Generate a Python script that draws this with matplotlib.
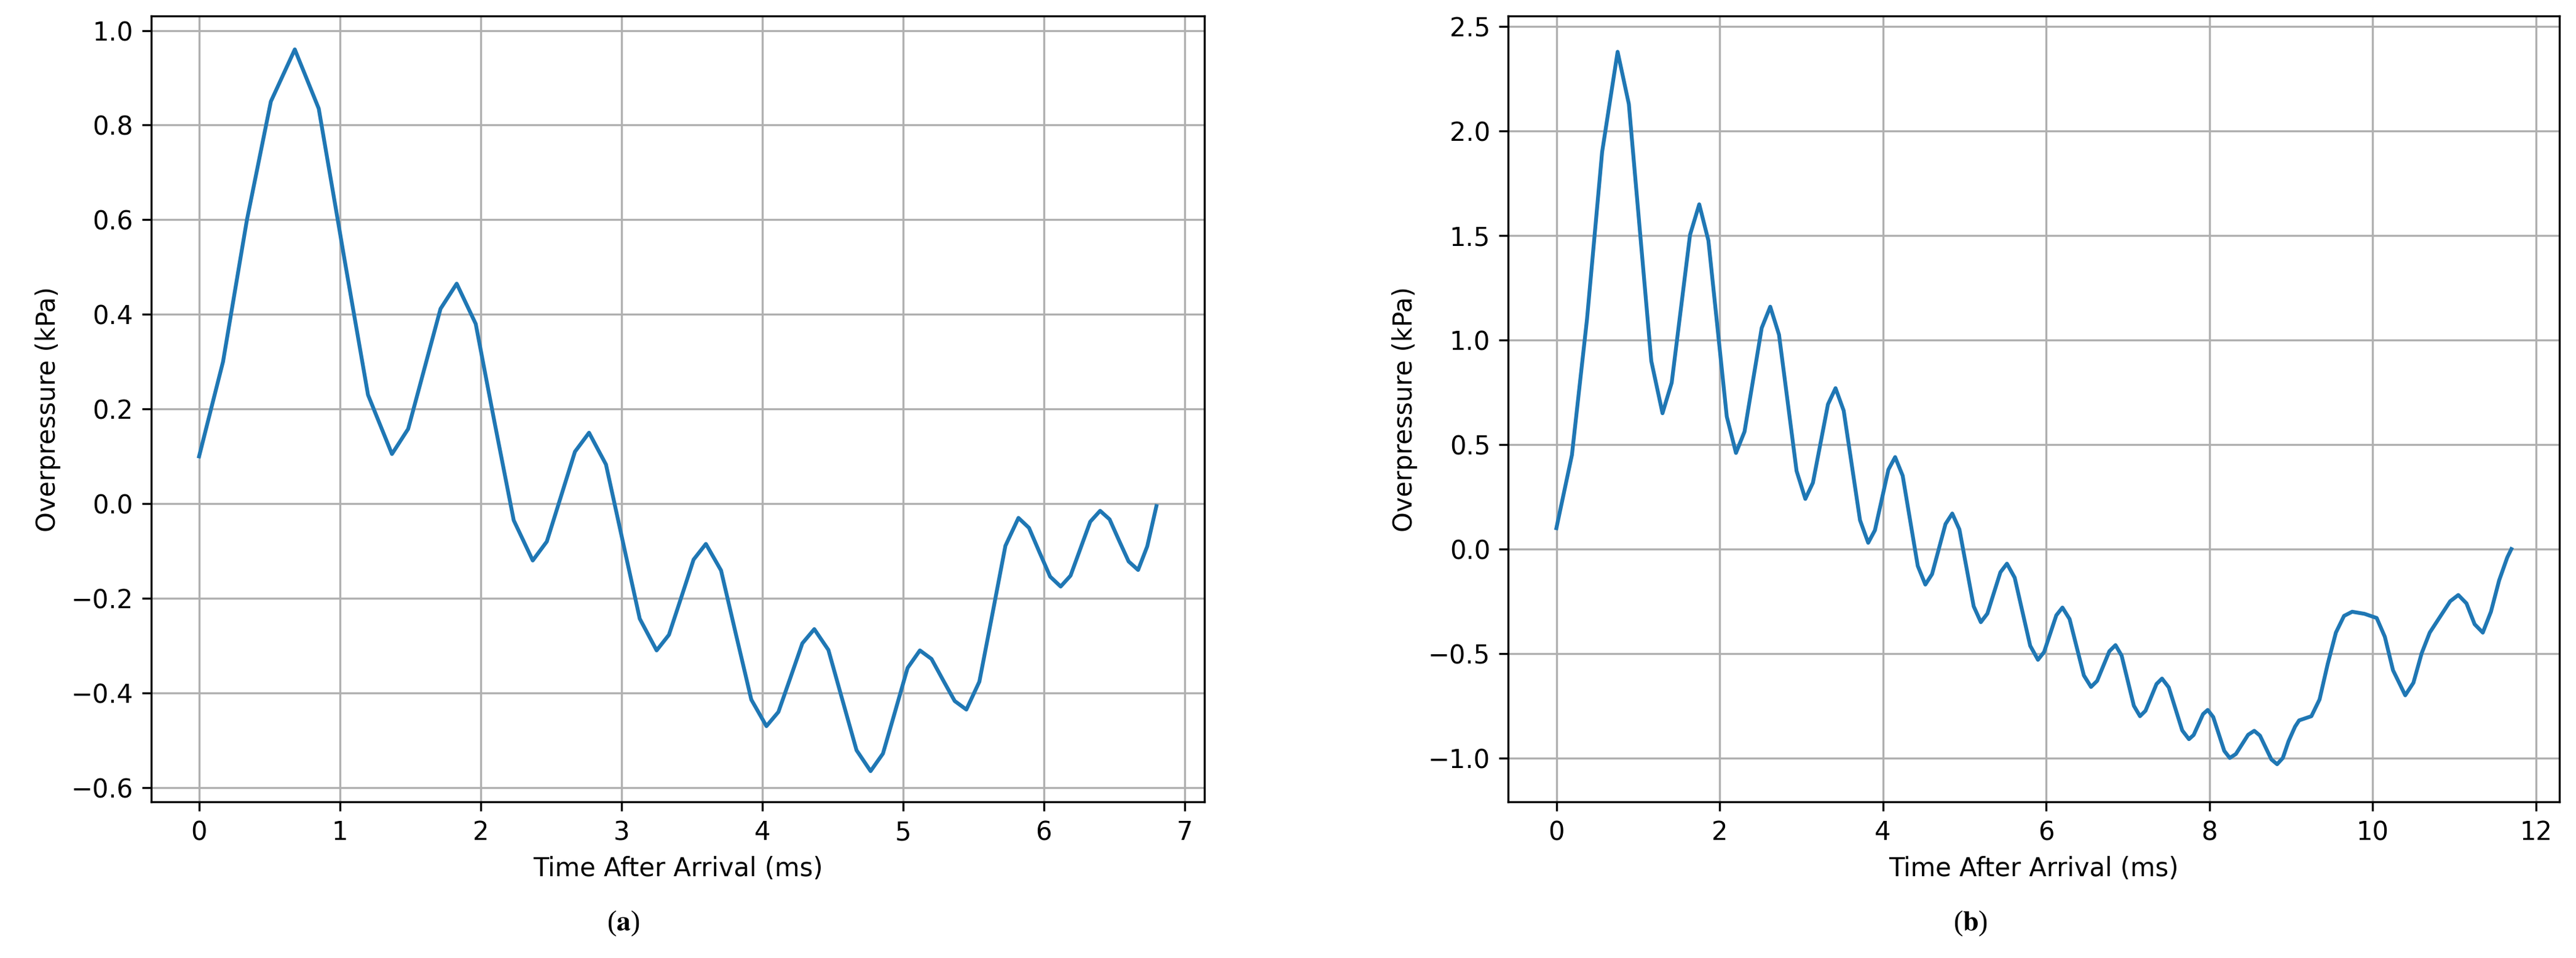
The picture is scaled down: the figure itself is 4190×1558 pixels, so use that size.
import matplotlib
matplotlib.use("Agg")
import matplotlib.pyplot as plt

ta = [0,0.17,0.34,0.51,0.68,0.85,1.025,1.2,1.37,1.485,1.6,1.715,1.83,1.965,2.1,2.235,2.37,2.47,2.57,2.67,2.77,
      2.89,3.01,3.13,3.25,3.3375,3.425,3.5125,3.6,3.7075,3.815,3.9225,4.03,4.115,4.2,4.285,4.37,4.47,4.57,4.67,4.77,
      4.8575,4.945,5.0325,5.12,5.2025,5.285,5.3675,5.45,5.5425,5.635,5.7275,5.82,5.895,5.97,6.045,6.12,6.19,6.26,6.33,6.4,
      6.4675,6.535,6.6025,6.67,6.735,6.8]
va = [0.1,0.3,0.6,0.85,0.96,0.835,0.53,0.23,0.105,0.158,0.285,0.412,0.465,0.38,0.17,-0.035,-0.12,-0.08,0.015,0.11,0.15,
      0.083,-0.08,-0.243,-0.31,-0.277,-0.198,-0.118,-0.085,-0.141,-0.278,-0.414,-0.47,-0.44,-0.368,-0.295,-0.265,-0.309,-0.415,-0.521,-0.565,
      -0.528,-0.438,-0.347,-0.31,-0.328,-0.373,-0.417,-0.435,-0.376,-0.233,-0.089,-0.03,-0.051,-0.103,-0.154,-0.175,-0.152,-0.095,-0.038,-0.015,
      -0.033,-0.078,-0.122,-0.14,-0.09,-0.005]

tb = [0,0.19,0.375,0.56,0.75,0.8875,1.025,1.1625,1.3,1.4125,1.525,1.6375,1.75,1.8625,1.975,2.0875,2.2,2.305,2.41,2.515,2.62,
      2.7275,2.835,2.9425,3.05,3.1425,3.235,3.3275,3.42,3.52,3.62,3.72,3.82,3.9025,3.985,4.0675,4.15,4.2425,4.335,4.4275,4.52,
      4.6025,4.685,4.7675,4.85,4.9375,5.025,5.1125,5.2,5.28,5.36,5.44,5.52,5.615,5.71,5.805,5.9,5.975,6.05,6.125,6.2,
      6.2875,6.375,6.4625,6.55,6.625,6.7,6.775,6.85,6.925,7.0,7.075,7.15,7.2175,7.285,7.3525,7.42,7.5025,7.585,7.6675,7.75,
      7.8075,7.865,7.9225,7.98,8.0475,8.115,8.1825,8.25,8.325,8.4,8.475,8.55,8.62,8.69,8.76,8.83,8.9,8.97,9.05,9.1,9.25,9.35,
      9.45,9.55,9.65,9.75,9.9,10.05,10.15,10.25,10.4,10.5,10.6,10.7,10.85,10.95,11.05,11.15,11.25,11.35,11.45,11.55,11.65,11.7]
vb = [0.1,0.45,1.1,1.9,2.38,2.13,1.515,0.90,0.65,0.796,1.15,1.504,1.65,1.476,1.055,0.634,0.46,0.562,0.81,1.058,1.16,
      1.026,0.70,0.374,0.24,0.317,0.505,0.693,0.77,0.662,0.40,0.138,0.03,0.09,0.235,0.38,0.44,0.351,0.135,-0.081,-0.17,
      -0.12,0.0,0.12,0.17,0.094,-0.09,-0.274,-0.35,-0.309,-0.21,-0.111,-0.07,-0.137,-0.30,-0.463,-0.53,-0.493,-0.405,-0.317,-0.28,
      -0.335,-0.47,-0.605,-0.66,-0.631,-0.56,-0.489,-0.46,-0.51,-0.63,-0.75,-0.80,-0.774,-0.71,-0.646,-0.62,-0.662,-0.765,-0.868,-0.91,
      -0.89,-0.84,-0.79,-0.77,-0.804,-0.885,-0.966,-1.0,-0.981,-0.935,-0.889,-0.87,-0.893,-0.95,-1.007,-1.03,-1.0,-0.92,-0.85,-0.82,-0.80,-0.72,
      -0.55,-0.40,-0.32,-0.30,-0.31,-0.33,-0.42,-0.58,-0.70,-0.64,-0.50,-0.40,-0.31,-0.25,-0.22,-0.26,-0.36,-0.40,-0.30,-0.15,-0.04,0.0]

fig = plt.figure(figsize=(4190/300, 1558/300), dpi=300)
axa = fig.add_axes([0.0587, 0.163, 0.4088, 0.820])
axb = fig.add_axes([0.5855, 0.163, 0.4081, 0.820])
for ax, t, v in [(axa, ta, va), (axb, tb, vb)]:
    ax.plot(t, v, color='#1f77b4', lw=1.5)
    ax.grid(True, color='#b0b0b0', lw=0.8)
    ax.set_axisbelow(True)
    ax.set_xlabel('Time After Arrival (ms)', fontsize=10)
    ax.set_ylabel('Overpressure (kPa)', fontsize=10)
    ax.tick_params(labelsize=10)
axa.set_xlim(-0.34, 7.14); axa.set_ylim(-0.63, 1.03)
axa.set_yticks([-0.6,-0.4,-0.2,0.0,0.2,0.4,0.6,0.8,1.0])
axb.set_xlim(-0.59, 12.29); axb.set_ylim(-1.21, 2.55)
axb.set_xticks([0,2,4,6,8,10,12])
plt.rcParams['mathtext.fontset'] = 'stix'
fig.text(0.242, 0.036, r'($\mathbf{a}$)', ha='center', va='center', fontsize=11, family='Liberation Serif')
fig.text(0.765, 0.036, r'($\mathbf{b}$)', ha='center', va='center', fontsize=11, family='Liberation Serif')
fig.savefig('out.png', dpi=300)
